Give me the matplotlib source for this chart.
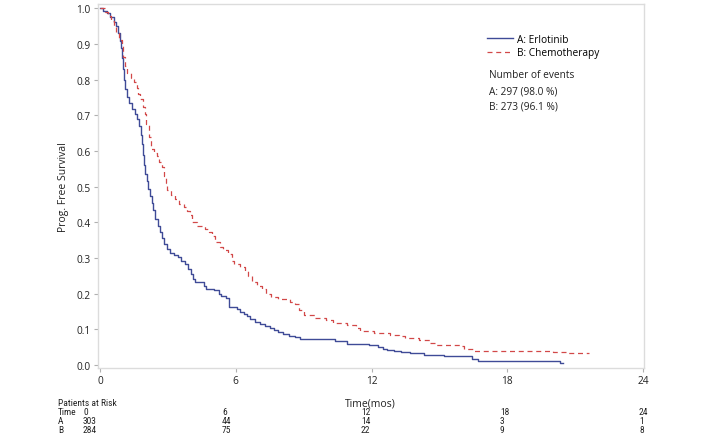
import matplotlib
matplotlib.use('Agg')
import matplotlib.pyplot as plt
from matplotlib import font_manager

# Kaplan-Meier step data
a_time = [0, 0.15, 0.3, 0.45, 0.6, 0.7, 0.8, 0.88, 0.93, 0.97, 1.0, 1.05, 1.12, 1.2, 1.3,
          1.42, 1.55, 1.65, 1.72, 1.8, 1.86, 1.9, 1.95, 2.0, 2.06, 2.12, 2.2, 2.28, 2.36,
          2.45, 2.55, 2.65, 2.75, 2.85, 2.95, 3.1, 3.25, 3.45, 3.6, 3.75, 3.88, 4.0, 4.1,
          4.2, 4.6, 4.7, 5.05, 5.25, 5.35, 5.55, 5.72, 6.05, 6.2, 6.35, 6.5, 6.65, 6.85,
          7.05, 7.3, 7.5, 7.7, 7.85, 8.1, 8.35, 8.6, 8.85, 10.4, 10.9, 11.9, 12.3, 12.5,
          12.7, 13.0, 13.3, 13.7, 14.3, 15.2, 16.45, 16.7, 20.35, 20.45]
a_surv = [1.0, 0.993, 0.987, 0.977, 0.962, 0.95, 0.93, 0.91, 0.89, 0.86, 0.83, 0.80, 0.775,
          0.752, 0.735, 0.718, 0.705, 0.69, 0.67, 0.645, 0.62, 0.59, 0.56, 0.535, 0.515,
          0.495, 0.475, 0.455, 0.435, 0.41, 0.39, 0.372, 0.355, 0.34, 0.325, 0.315, 0.308,
          0.302, 0.292, 0.282, 0.27, 0.255, 0.24, 0.232, 0.222, 0.214, 0.209, 0.2, 0.193,
          0.188, 0.163, 0.157, 0.15, 0.143, 0.137, 0.129, 0.121, 0.115, 0.11, 0.105, 0.098,
          0.092, 0.087, 0.082, 0.078, 0.073, 0.066, 0.06, 0.055, 0.05, 0.046, 0.043, 0.04,
          0.037, 0.033, 0.028, 0.024, 0.018, 0.012, 0.006, 0.006]

b_time = [0, 0.2, 0.37, 0.5, 0.6, 0.72, 0.82, 0.96, 1.02, 1.1, 1.2, 1.35, 1.5, 1.62, 1.7,
          1.78, 1.88, 1.98, 2.05, 2.15, 2.25, 2.4, 2.5, 2.62, 2.72, 2.82, 2.9, 2.98, 3.15,
          3.3, 3.5, 3.7, 3.85, 3.97, 4.05, 4.3, 4.62, 4.8, 4.95, 5.1, 5.3, 5.45, 5.65, 5.82,
          5.92, 6.2, 6.4, 6.55, 6.7, 6.95, 7.15, 7.35, 7.55, 7.85, 8.4, 8.6, 8.8, 9.0, 9.5,
          10.0, 10.3, 10.9, 11.3, 11.5, 12.1, 12.8, 13.2, 13.5, 14.1, 14.6, 14.8, 15.9,
          16.1, 16.5, 20.0, 20.6, 21.6]
b_surv = [1.0, 0.99, 0.98, 0.965, 0.95, 0.93, 0.912, 0.895, 0.865, 0.84, 0.82, 0.805, 0.795,
          0.778, 0.76, 0.745, 0.725, 0.705, 0.675, 0.64, 0.605, 0.595, 0.585, 0.57, 0.555,
          0.53, 0.51, 0.49, 0.478, 0.466, 0.453, 0.443, 0.433, 0.42, 0.40, 0.39, 0.382,
          0.372, 0.362, 0.345, 0.33, 0.322, 0.31, 0.292, 0.282, 0.274, 0.265, 0.25, 0.232,
          0.222, 0.213, 0.2, 0.192, 0.185, 0.178, 0.17, 0.155, 0.14, 0.133, 0.126, 0.119,
          0.113, 0.103, 0.095, 0.09, 0.085, 0.08, 0.075, 0.07, 0.063, 0.056, 0.053, 0.044,
          0.04, 0.037, 0.033, 0.033]

labels = ['A: Erlotinib', 'B: Chemotherapy']
events = ['A: 297 (98.0 %)', 'B: 273 (96.1 %)']
risk_times = ['0', '6', '12', '18', '24']
risk_a = ['303', '44', '14', '3', '1']
risk_b = ['284', '75', '22', '9', '8']

names = {f.name for f in font_manager.fontManager.ttflist}
main_font = ['Open Sans', 'DejaVu Sans']
narrow_font = ['Liberation Sans Narrow', 'Roboto Condensed', 'Liberation Sans', 'DejaVu Sans']
narrow_font = [f for f in narrow_font if f in names] or ['DejaVu Sans']
plt.rcParams['font.family'] = main_font

W, H = 705, 439
fig = plt.figure(figsize=(W / 100, H / 100), dpi=100)
ax = fig.add_axes([97.5 / W, 1 - 369 / H, (644 - 97.5) / W, (369 - 5) / H])

ax.plot(a_time, a_surv, drawstyle='steps-post', color='#3f4b97', lw=1.0, label=labels[0])
ax.plot(b_time, b_surv, drawstyle='steps-post', color='#d24848', lw=0.9,
        dashes=(4, 3), label=labels[1])

ax.set_xlim(-0.11, 24.04)
ax.set_ylim(-0.0084, 1.0126)
ax.set_xticks([0, 6, 12, 18, 24])
ax.set_yticks([i / 10 for i in range(11)])
ax.set_yticklabels(['%.1f' % (i / 10) for i in range(11)])
for s in ax.spines.values():
    s.set_color('#dcdcdc')
    s.set_linewidth(1.0)
ax.tick_params(direction='out', length=3, width=0.8, color='#b0b0b0',
               labelsize=7.3, labelcolor='#222222', pad=2)
ax.set_ylabel('Prog. Free Survival', fontsize=7.5, color='#222222', labelpad=5)
ax.set_xlabel('Time(mos)', fontsize=7.5, color='#222222', labelpad=8)

ax.legend(loc='upper left', bbox_to_anchor=(487 / W, 1 - 35 / H), bbox_transform=fig.transFigure,
          frameon=False, fontsize=7.3, handlelength=2.6, handletextpad=0.35,
          labelspacing=0.22, borderpad=0, borderaxespad=0)

fig.text(489 / W, 1 - 76 / H, 'Number of events', fontsize=7.3, va='center', color='#222222')
for i, e in enumerate(events):
    fig.text(489 / W, 1 - (92 + 15 * i) / H, e, fontsize=7.3, va='center', color='#222222')

# patients at risk table
tkw = dict(fontsize=6.8, va='center', color='#222222', family=narrow_font)
fig.text(58 / W, 1 - 404 / H, 'Patients at Risk', **tkw)
rows = [('Time', risk_times), ('A', risk_a), ('B', risk_b)]
for r, (name, vals) in enumerate(rows):
    y = 1 - (413 + 9 * r) / H
    fig.text(58 / W, y, name, **tkw)
    for c, v in enumerate(vals):
        fig.text((83 + 139 * c) / W, y, v, **tkw)

fig.savefig('out.png', dpi=100)
